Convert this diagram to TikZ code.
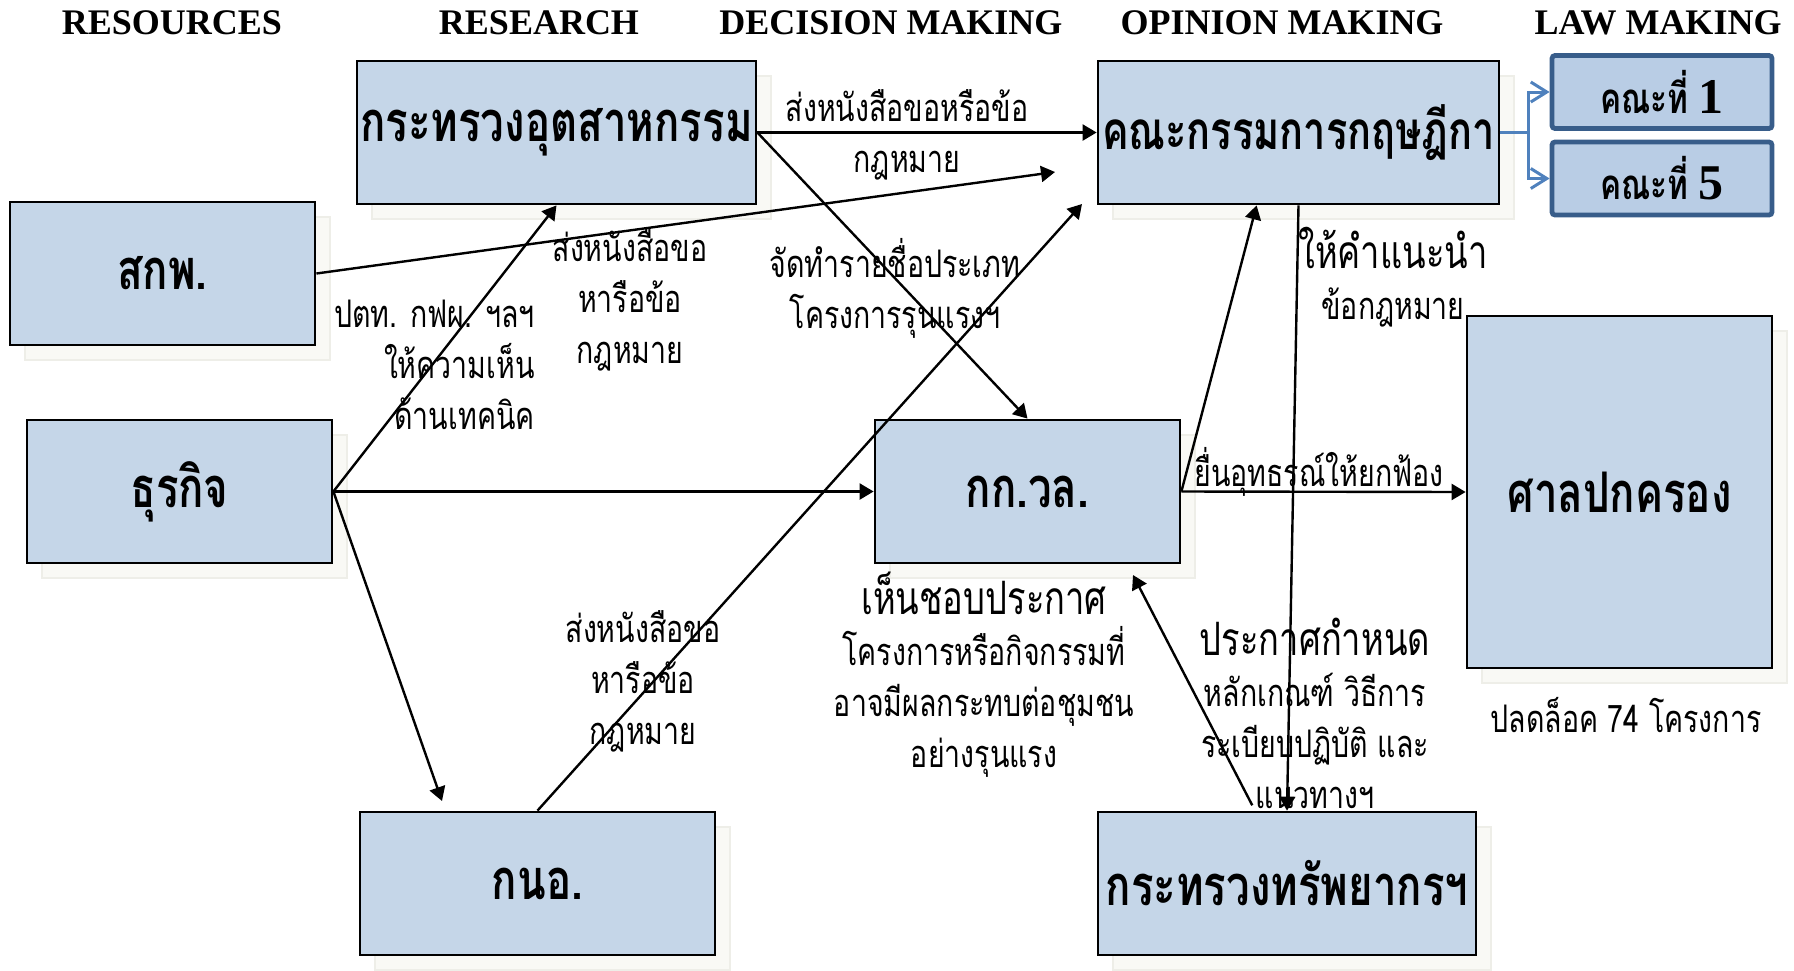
\documentclass[tikz,border=0pt]{standalone}
\usepackage{fontspec}
\setmainfont{Liberation Serif}
\newfontfamily\thaifont[Script=Thai,FakeStretch=0.75]{Loma}
\usetikzlibrary{arrows.meta,shadows}
\definecolor{boxfill}{RGB}{197,214,232}
\definecolor{subfill}{RGB}{185,205,229}
\definecolor{subline}{RGB}{56,93,138}
\definecolor{linkblue}{RGB}{79,129,189}
\definecolor{shadefill}{RGB}{249,249,245}
\definecolor{shadeline}{RGB}{238,238,232}
\tikzset{
    box/.style={draw,line width=1.4pt,fill=boxfill,inner sep=0pt,
        font=\thaifont\bfseries\fontsize{28}{32}\selectfont,
        general shadow={shadow xshift=7.5pt,shadow yshift=-7.5pt,fill=shadefill,draw=shadeline,line width=0.6pt}},
    subbox/.style={draw=subline,line width=2.4pt,rounded corners=1.5pt,fill=subfill,inner sep=0pt,
        minimum width=110pt,minimum height=36.5pt,font=\thaifont\bfseries\fontsize{21}{24}\selectfont},
    head/.style={font=\bfseries\fontsize{18}{20}\selectfont},
    note/.style={align=center,inner sep=1pt,font=\thaifont\fontsize{19}{25.5}\selectfont},
    arr/.style={line width=1.2pt,-{Triangle[length=7pt,width=8pt]}},
    barb/.style={draw=linkblue,line width=1.5pt,-{Straight Barb[length=8pt,width=10pt]}}
}

\begin{document}
\begin{tikzpicture}[x=0.5pt,y=-0.5pt]
    \useasboundingbox (0,0) rectangle (1794,970);

    \node[head] (hres) at (172,23) {RESOURCES};
    \node[head] (hrsc) at (539,23) {RESEARCH};
    \node[head] (hdec) at (891,23) {DECISION MAKING};
    \node[head] (hopi) at (1282,23) {OPINION MAKING};
    \node[head] (hlaw) at (1658,23) {LAW MAKING};

    \node[box,minimum width=199.5pt,minimum height=71.5pt] (indus) at (556.5,132.5) {กระทรวงอุตสาหกรรม};
    \node[box,minimum width=152.5pt,minimum height=71.5pt] (erc) at (162.5,273.5) {สกพ.};
    \node[box,minimum width=152.5pt,minimum height=71.5pt] (biz) at (179.5,491.5) {ธุรกิจ};
    \node[box,minimum width=152.5pt,minimum height=71.5pt] (nec) at (1027.5,491.5) {กก.วล.};
    \node[box,minimum width=200.5pt,minimum height=71.5pt,font=\thaifont\bfseries\fontsize{26.5}{30}\selectfont] (council) at (1298.5,132.5) {คณะกรรมการกฤษฎีกา};
    \node[box,minimum width=152.5pt,minimum height=176pt] (court) at (1619.5,492) {ศาลปกครอง};
    \node[box,minimum width=177.5pt,minimum height=71.5pt] (ieat) at (537.5,883.5) {กนอ.};
    \node[box,minimum width=189pt,minimum height=71.5pt] (mnre) at (1287,883.5) {กระทรวงทรัพยากรฯ};
    \node[subbox] (c1) at (1662,92) {คณะที่ {\rmfamily\fontsize{25}{28}\selectfont 1}};
    \node[subbox] (c5) at (1662,178.5) {คณะที่ {\rmfamily\fontsize{25}{28}\selectfont 5}};

    \coordinate (ercEnd) at (1055,172);
    \coordinate (bizEnd) at (442,801);
    \coordinate (ieatEnd) at (1082,204);
    \coordinate (mnreEnd) at (1133,575);

    \draw[arr] (indus.east) -- (council.west);
    \draw[arr] (indus.east) -- (nec.north);
    \draw[arr] (erc.east) -- (ercEnd);
    \draw[arr] (biz.east) -- (indus.south);
    \draw[arr] (biz.east) -- (nec.west);
    \draw[arr] (biz.east) -- (bizEnd);
    \draw[arr] (ieat.north) -- (ieatEnd);
    \draw[arr] (nec.east) -- ([xshift=80pt]council.south west);
    \draw[arr] (nec.east) -- (court.west);
    \draw[arr] (council.south) -- (mnre.north);
    \draw[arr,shorten <=3pt] ([xshift=-16pt]mnre.north) -- (mnreEnd);
    \draw[barb] (council.east) -- ++(28,0) |- (c1.west);
    \draw[barb] (council.east) -- ++(28,0) |- (c5.west);

    \node[note] (lblA) at (907,135) {ส่งหนังสือขอหรือข้อ\\กฎหมาย};
    \node[note] (lblB) at (630,300) {ส่งหนังสือขอ\\หารือข้อ\\กฎหมาย};
    \node[note,align=right,anchor=east] (lblC) at (537,365) {ปตท. กฟผ. ฯลฯ\\ให้ความเห็น\\ด้านเทคนิค};
    \node[note] (lblD) at (895,288) {จัดทำรายชื่อประเภท\\โครงการรุนแรงฯ};
    \node[note] (lblE) at (643,681) {ส่งหนังสือขอ\\หารือข้อ\\กฎหมาย};
    \node[note] (lblF) at (984,675) {{\fontsize{23}{25.5}\selectfont เห็นชอบประกาศ}\\โครงการหรือกิจกรรมที่\\อาจมีผลกระทบต่อชุมชน\\อย่างรุนแรง};
    \node[note] (lblG) at (1393,277) {{\fontsize{23}{25.5}\selectfont ให้คำแนะนำ}\\ข้อกฎหมาย};
    \node[note] (lblH) at (1319,472) {ยื่นอุทธรณ์ให้ยกฟ้อง};
    \node[note] (lblI) at (1315,713) {{\fontsize{23}{25.5}\selectfont ประกาศกำหนด}\\หลักเกณฑ์ วิธีการ\\ระเบียบปฏิบัติ และ\\แนวทางฯ};
    \node[note,font=\thaifont\fontsize{19}{25.5}\selectfont] (lblJ) at (1626,715) {ปลดล็อค 74 โครงการ};
\end{tikzpicture}
\end{document}
